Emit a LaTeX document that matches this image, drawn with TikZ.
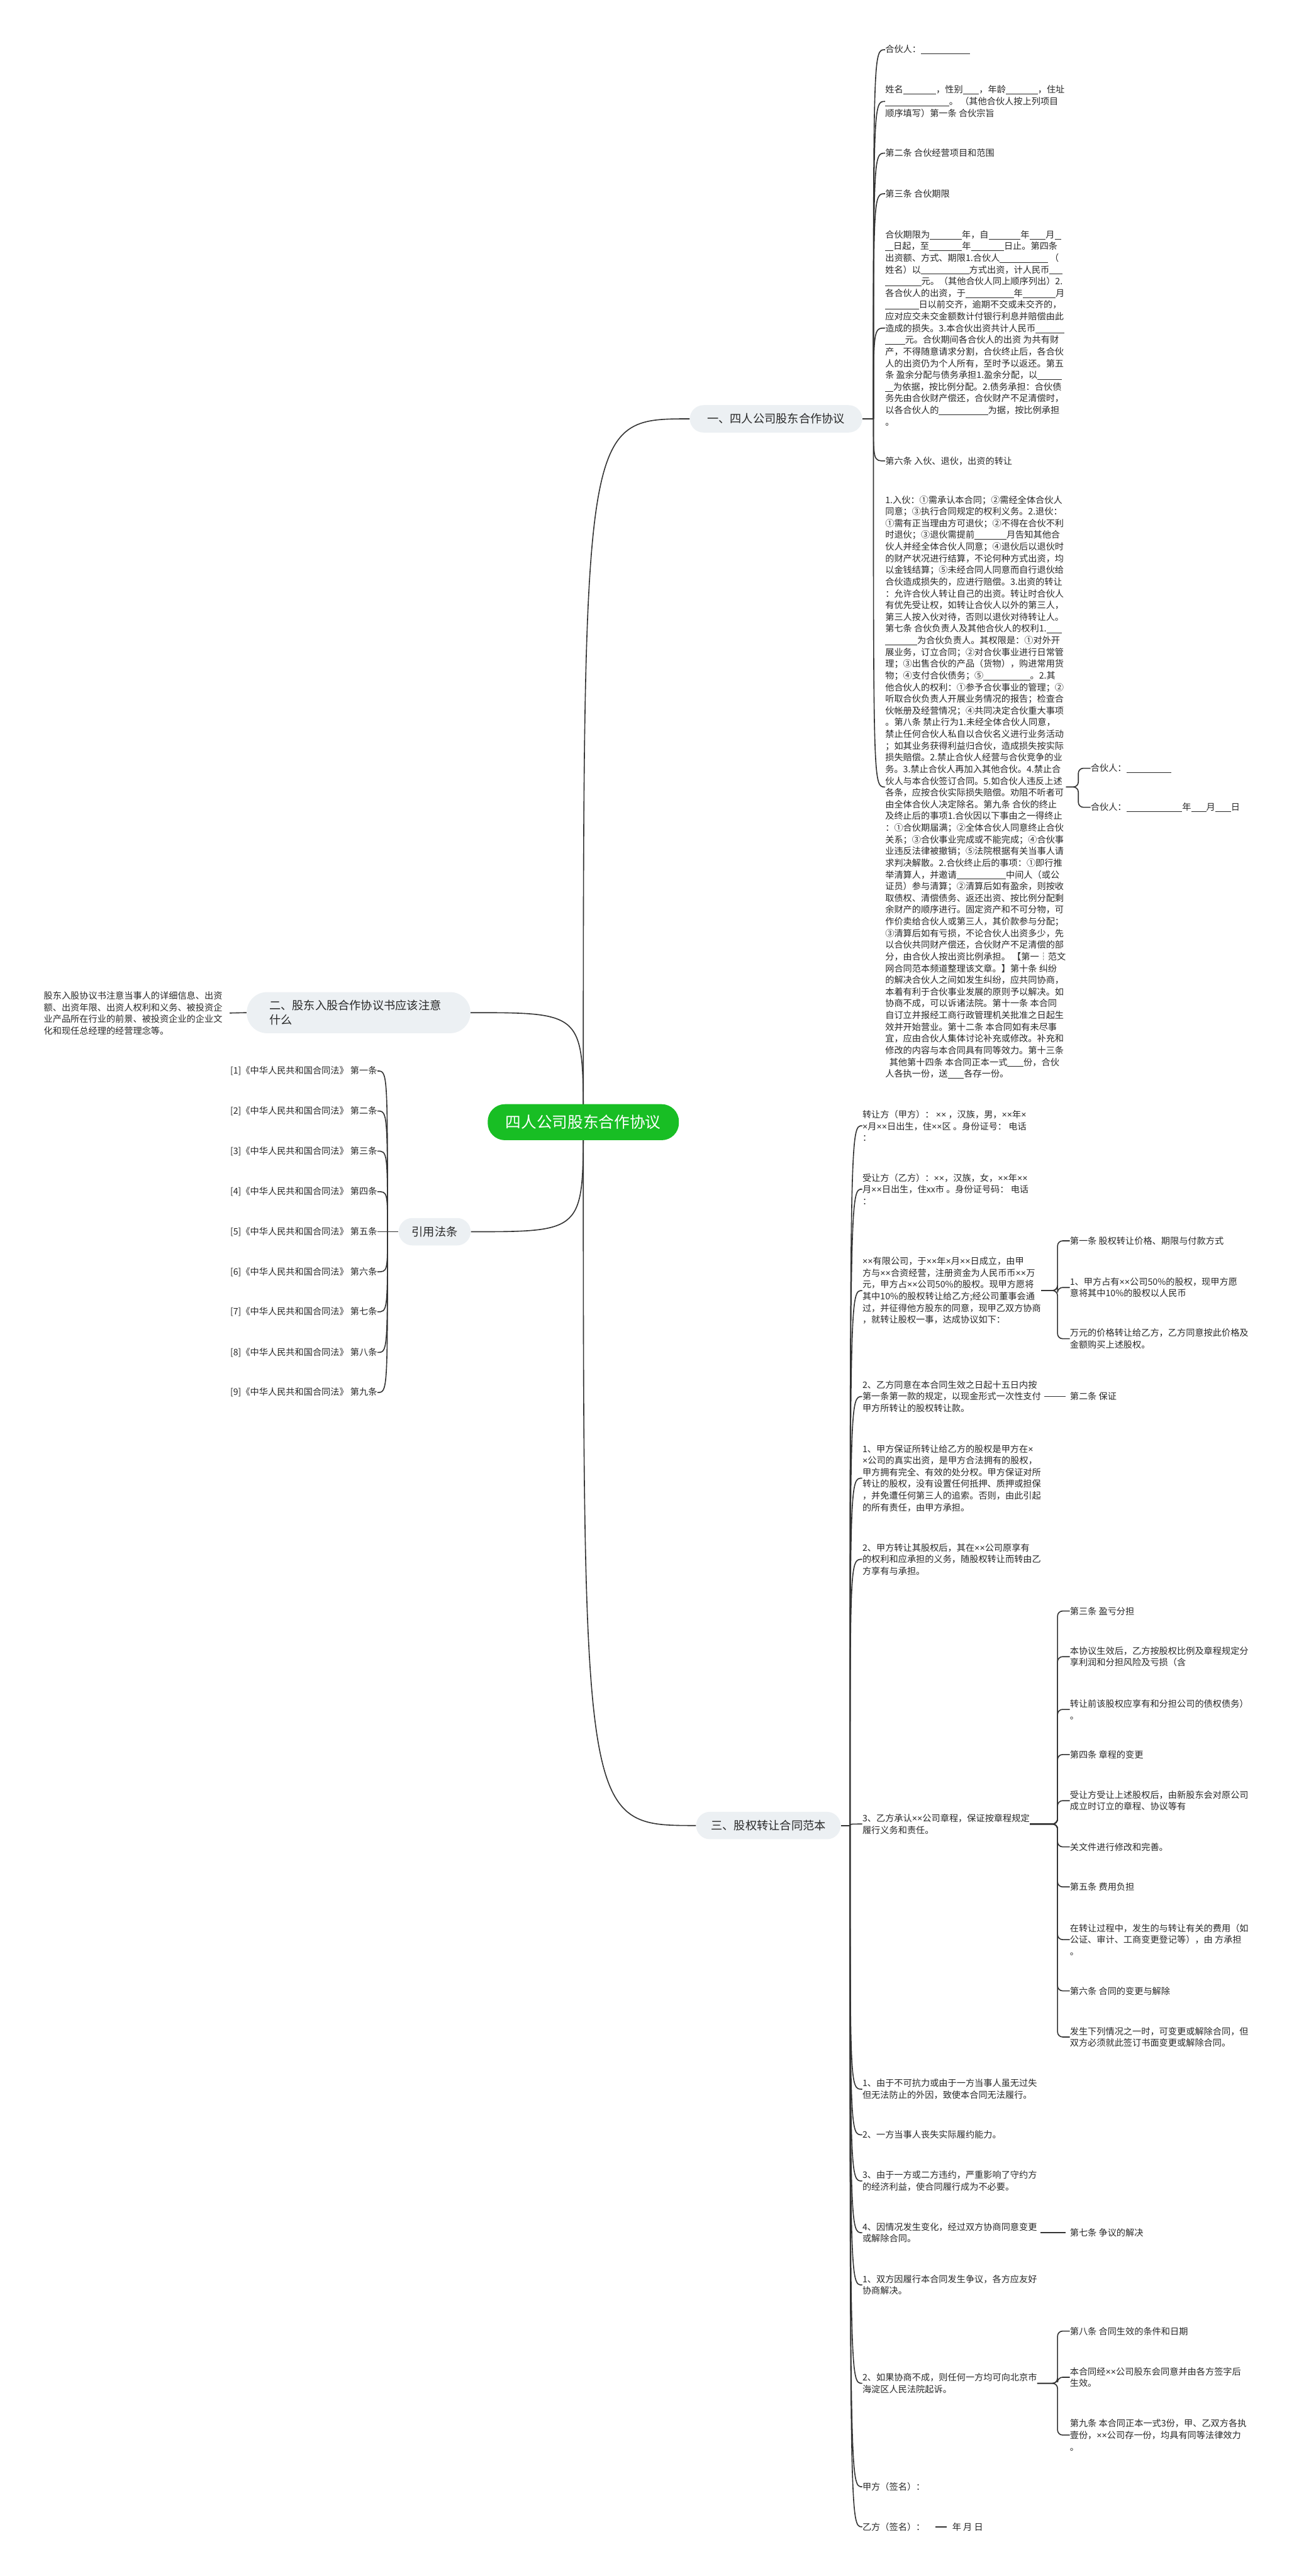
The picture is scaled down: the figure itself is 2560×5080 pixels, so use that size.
\documentclass[tikz,border=0pt]{standalone}
\usepackage{fontspec}
\setmainfont{Noto Sans CJK SC}
\newfontfamily\xfont{Liberation Sans}
\definecolor{rootc}{RGB}{24,190,36}
\definecolor{pillc}{RGB}{236,240,243}
\definecolor{linec}{RGB}{51,51,51}
\definecolor{textc}{RGB}{40,40,40}
\newcommand\bl[1]{\rule[-1.3pt]{\dimexpr #1pt/2\relax}{0.45pt}}
\newcommand\dfont{\fontsize{8.8pt}{11.55pt}\selectfont}
\newcommand\pfont{\fontsize{11.3pt}{14.5pt}\selectfont}
\newcommand\rfont{\fontsize{15.3pt}{18pt}\selectfont}
\catcode`\×=\active
\protected\def×{{\xfont\char"D7}}
\pgfdeclarelayer{bg}
\pgfsetlayers{bg,main}
\tikzset{
 txt/.style={anchor=west, inner sep=0pt, align=left, font=\dfont, text=textc},
 rtxt/.style={anchor=east, inner sep=0pt, align=left, font=\dfont, text=textc},
 pill/.style={fill=pillc, text=textc, font=\pfont, inner sep=0pt, minimum height=27pt, rounded corners=13.5pt, align=center},
 rootnode/.style={fill=rootc, text=white, font=\rfont, inner sep=0pt, minimum width=188.5pt, minimum height=35.5pt, rounded corners=17pt},
 conn/.style={draw=linec, line width=1pt},
 brk/.style={conn, rounded corners=5pt},
}
\begin{document}
\begin{tikzpicture}[x=0.5pt,y=-0.5pt]
\useasboundingbox (0,0) rectangle (2560,5080);
\begin{pgfonlayer}{bg}
\fill[white] (0,0) rectangle (2560,5080);
\end{pgfonlayer}

% root and main branches
\node[rootnode] (root) at (1150,2213) {四人公司股东合作协议};
\node[pill, minimum width=170pt] (a) at (1530,826) {一、四人公司股东合作协议};
\node[pill, minimum width=220.5pt, minimum height=40.5pt, rounded corners=20pt, text width=176pt, align=left] (b) at (707,1997) {二、股东入股合作协议书应该注意\\什么};
\node[pill, minimum width=71pt] (c) at (857,2429) {引用法条};
\node[pill, minimum width=142.5pt] (d) at (1515,3600) {三、股权转让合同范本};

% section one
\node[txt] (a1) at (1745,98) {合伙人：\bl{96}};
\node[txt] (a2) at (1745,200) {姓名\bl{65}，性别\bl{32}，年龄\bl{63}，住址\\\bl{126}。 （其他合伙人按上列项目\\顺序填写）第一条 合伙宗旨};
\node[txt] (a3) at (1745,302) {第二条 合伙经营项目和范围};
\node[txt] (a4) at (1745,382) {第三条 合伙期限};
\node[txt] (a5) at (1745,647) {合伙期限为\bl{63}年，自\bl{63}年\bl{32}月\bl{13}\\
\bl{16}日起，至\bl{65}年\bl{65}日止。第四条\\
出资额、方式、期限1.合伙人\bl{95} （\\
姓名）以\bl{95}方式出资，计人民币\bl{25}\\
\bl{71}元。（其他合伙人同上顺序列出）2.\\
各合伙人的出资，于\bl{95}年\bl{65}月\\
\bl{66}日以前交齐，逾期不交或未交齐的，\\
应对应交未交金额数计付银行利息并赔偿由此\\
造成的损失。3.本合伙出资共计人民币\bl{57}\\
\bl{39}元。合伙期间各合伙人的出资 为共有财\\
产，不得随意请求分割，合伙终止后，各合伙\\
人的出资仍为个人所有，至时予以返还。第五\\
条 盈余分配与债务承担1.盈余分配，以\bl{48}\\
\bl{16}为依据，按比例分配。2.债务承担：合伙债\\
务先由合伙财产偿还，合伙财产不足清偿时，\\
以各合伙人的\bl{97}为据，按比例承担\\
。};
\node[txt] (a6) at (1745,909) {第六条 入伙、退伙，出资的转让};
\node[txt] (a7) at (1745,1552) {1.入伙：①需承认本合同；②需经全体合伙人\\
同意；③执行合同规定的权利义务。2.退伙：\\
①需有正当理由方可退伙；②不得在合伙不利\\
时退伙；③退伙需提前\bl{63}月告知其他合\\
伙人并经全体合伙人同意；④退伙后以退伙时\\
的财产状况进行结算，不论何种方式出资，均\\
以金钱结算；⑤未经合同人同意而自行退伙给\\
合伙造成损失的，应进行赔偿。3.出资的转让\\
：允许合伙人转让自己的出资。转让时合伙人\\
有优先受让权，如转让合伙人以外的第三人，\\
第三人按入伙对待，否则以退伙对待转让人。\\
第七条 合伙负责人及其他合伙人的权利1.\bl{30}\\
\bl{63}为合伙负责人。其权限是：①对外开\\
展业务，订立合同；②对合伙事业进行日常管\\
理；③出售合伙的产品（货物），购进常用货\\
物；④支付合伙债务；⑤\bl{92}。2.其\\
他合伙人的权利：①参予合伙事业的管理；②\\
听取合伙负责人开展业务情况的报告；检查合\\
伙帐册及经营情况；④共同决定合伙重大事项\\
。第八条 禁止行为1.未经全体合伙人同意，\\
禁止任何合伙人私自以合伙名义进行业务活动\\
；如其业务获得利益归合伙，造成损失按实际\\
损失赔偿。2.禁止合伙人经营与合伙竞争的业\\
务。3.禁止合伙人再加入其他合伙。4.禁止合\\
伙人与本合伙签订合同。5.如合伙人违反上述\\
各条，应按合伙实际损失赔偿。劝阻不听者可\\
由全体合伙人决定除名。第九条 合伙的终止\\
及终止后的事项1.合伙因以下事由之一得终止\\
：①合伙期届满；②全体合伙人同意终止合伙\\
关系；③合伙事业完成或不能完成；④合伙事\\
业违反法律被撤销；⑤法院根据有关当事人请\\
求判决解散。2.合伙终止后的事项：①即行推\\
举清算人，并邀请\bl{97}中间人（或公\\
证员）参与清算；②清算后如有盈余，则按收\\
取债权、清偿债务、返还出资、按比例分配剩\\
余财产的顺序进行。固定资产和不可分物，可\\
作价卖给合伙人或第三人，其价款参与分配；\\
③清算后如有亏损，不论合伙人出资多少，先\\
以合伙共同财产偿还，合伙财产不足清偿的部\\
分，由合伙人按出资比例承担。 【第一┆范文\\
网合同范本频道整理该文章。】第十条 纠纷\\
的解决合伙人之间如发生纠纷，应共同协商，\\
本着有利于合伙事业发展的原则予以解决。如\\
协商不成，可以诉诸法院。第十一条 本合同\\
自订立并报经工商行政管理机关批准之日起生\\
效并开始营业。第十二条 本合同如有未尽事\\
宜，应由合伙人集体讨论补充或修改。补充和\\
修改的内容与本合同具有同等效力。第十三条\\
\hspace*{4pt}其他第十四条 本合同正本一式\bl{32}份，合伙\\
人各执一份，送\bl{32}各存一份。};
\node[txt] (a7a) at (2150,1515) {合伙人：\bl{89}};
\node[txt] (a7b) at (2150,1592) {合伙人：\bl{110}年\bl{30}月\bl{31}日};

% section two
\node[txt] (b1) at (86,1998) {股东入股协议书注意当事人的详细信息、出资\\额、出资年限、出资人权利和义务、被投资企\\业产品所在行业的前景、被投资企业的企业文\\化和现任总经理的经营理念等。};

% cited laws
\node[rtxt] (c1) at (744,2112) {[1]《中华人民共和国合同法》 第一条};
\node[rtxt] (c2) at (744,2191) {[2]《中华人民共和国合同法》 第二条};
\node[rtxt] (c3) at (744,2270) {[3]《中华人民共和国合同法》 第三条};
\node[rtxt] (c4) at (744,2350) {[4]《中华人民共和国合同法》 第四条};
\node[rtxt] (c5) at (744,2429) {[5]《中华人民共和国合同法》 第五条};
\node[rtxt] (c6) at (744,2508) {[6]《中华人民共和国合同法》 第六条};
\node[rtxt] (c7) at (744,2587) {[7]《中华人民共和国合同法》 第七条};
\node[rtxt] (c8) at (744,2667) {[8]《中华人民共和国合同法》 第八条};
\node[rtxt] (c9) at (744,2746) {[9]《中华人民共和国合同法》 第九条};

% section three
\node[txt] (d1) at (1700,2220) {转让方（甲方）：  ×× ，汉族，男，××年×\\×月××日出生，住××区 。身份证号： 电话\\：};
\node[txt] (d2) at (1700,2345) {受让方（乙方）：××，汉族，女，××年××\\月××日出生，住xx市 。身份证号码： 电话\\：};
\node[txt] (d3) at (1700,2545) {××有限公司，于××年×月××日成立，由甲\\方与××合资经营，注册资金为人民币币××万\\元，甲方占××公司50\%的股权。现甲方愿将\\其中10\%的股权转让给乙方;经公司董事会通\\过，并征得他方股东的同意，现甲乙双方协商\\，就转让股权一事，达成协议如下：};
\node[txt] (d3a) at (2109,2447) {第一条 股权转让价格、期限与付款方式};
\node[txt] (d3b) at (2109,2539) {1、甲方占有××公司50\%的股权，现甲方愿\\意将其中10\%的股权以人民币};
\node[txt] (d3c) at (2109,2640) {万元的价格转让给乙方，乙方同意按此价格及\\金额购买上述股权。};
\node[txt] (d4) at (1700,2754) {2、乙方同意在本合同生效之日起十五日内按\\第一条第一款的规定，以现金形式一次性支付\\甲方所转让的股权转让款。};
\node[txt] (d4a) at (2109,2754) {第二条 保证};
\node[txt] (d5) at (1700,2915) {1、甲方保证所转让给乙方的股权是甲方在×\\×公司的真实出资，是甲方合法拥有的股权，\\甲方拥有完全、有效的处分权。甲方保证对所\\转让的股权，没有设置任何抵押、质押或担保\\，并免遭任何第三人的追索。否则，由此引起\\的所有责任，由甲方承担。};
\node[txt] (d6) at (1700,3075) {2、甲方转让其股权后，其在××公司原享有\\的权利和应承担的义务，随股权转让而转由乙\\方享有与承担。};
\node[txt] (d7) at (1700,3597) {3、乙方承认××公司章程，保证按章程规定\\履行义务和责任。};
\node[txt] (d7a) at (2109,3177) {第三条 盈亏分担};
\node[txt] (d7b) at (2109,3267) {本协议生效后，乙方按股权比例及章程规定分\\享利润和分担风险及亏损（含};
\node[txt] (d7c) at (2109,3371) {转让前该股权应享有和分担公司的债权债务）\\。};
\node[txt] (d7d) at (2109,3460) {第四条 章程的变更};
\node[txt] (d7e) at (2109,3551) {受让方受让上述股权后，由新股东会对原公司\\成立时订立的章程、协议等有};
\node[txt] (d7f) at (2109,3642) {关文件进行修改和完善。};
\node[txt] (d7g) at (2109,3721) {第五条 费用负担};
\node[txt] (d7h) at (2109,3825) {在转让过程中，发生的与转让有关的费用（如\\公证、审计、工商变更登记等），由 方承担\\。};
\node[txt] (d7i) at (2109,3926) {第六条 合同的变更与解除};
\node[txt] (d7j) at (2109,4017) {发生下列情况之一时，可变更或解除合同，但\\双方必须就此签订书面变更或解除合同。};
\node[txt] (d8) at (1700,4120) {1、由于不可抗力或由于一方当事人虽无过失\\但无法防止的外因，致使本合同无法履行。};
\node[txt] (d9) at (1700,4210) {2、一方当事人丧失实际履约能力。};
\node[txt] (d10) at (1700,4301) {3、由于一方或二方违约，严重影响了守约方\\的经济利益，使合同履行成为不必要。};
\node[txt] (d11) at (1700,4403) {4、因情况发生变化，经过双方协商同意变更\\或解除合同。};
\node[txt] (d11a) at (2109,4403) {第七条 争议的解决};
\node[txt] (d12) at (1700,4506) {1、双方因履行本合同发生争议，各方应友好\\协商解决。};
\node[txt] (d13) at (1700,4700) {2、如果协商不成，则任何一方均可向北京市\\海淀区人民法院起诉。};
\node[txt] (d13a) at (2109,4597) {第八条 合同生效的条件和日期};
\node[txt] (d13b) at (2109,4688) {本合同经××公司股东会同意并由各方签字后\\生效。};
\node[txt] (d13c) at (2109,4802) {第九条 本合同正本一式3份，甲、乙双方各执\\壹份，××公司存一份，均具有同等法律效力\\。};
\node[txt] (d14) at (1700,4904) {甲方（签名）：};
\node[txt] (d15) at (1700,4983) {乙方（签名）：};
\node[txt] (d15a) at (1877,4983) {年 月 日};

% spine points
\coordinate (as) at (1722,826);
\coordinate (cs) at (764,2429);
\coordinate (ds) at (1676,3600);
\coordinate (a7s) at (2126,1552);
\coordinate (d3s) at (2085,2545);
\coordinate (d7s) at (2085,3597);
\coordinate (d13s) at (2085,4700);

\begin{pgfonlayer}{bg}
% root to main branches
\draw[conn] (root.center) .. controls (root.center |- a.west) and (root.center |- a.west) .. (a.west);
\draw[conn] (root.center) .. controls (root.center |- d.west) and (root.center |- d.west) .. (d.west);
\draw[conn] (root.center) .. controls (root.center |- b.east) .. (b.east);
\draw[conn] (root.center) .. controls (root.center |- c.east) .. (c.east);
% section one
\draw[conn] (a.east) -- (as);
\foreach \n in {a1,a2,a3,a4,a5,a6,a7}
  \draw[conn] (as) .. controls (as |- \n.west) and (as |- \n.west) .. (\n.west);
\draw[brk] (a7.east) -- (a7s) |- (a7a.west);
\draw[brk] (a7.east) -- (a7s) |- (a7b.west);
% section two
\draw[conn, shorten <=7pt] (b1.east) -- (b.west);
% cited laws
\draw[conn] (c.west) -- (cs);
\foreach \n in {c1,c2,c3,c4,c5,c6,c7,c8,c9}
  \draw[conn] (cs) .. controls (cs |- \n.east) and (cs |- \n.east) .. (\n.east);
% section three
\draw[conn] (d.east) -- (ds);
\foreach \n in {d1,d2,d3,d4,d5,d6,d7,d8,d9,d10,d11,d12,d13,d14,d15}
  \draw[conn] (ds) .. controls (ds |- \n.west) and (ds |- \n.west) .. (\n.west);
\foreach \n in {d3a,d3b,d3c}
  \draw[brk] (d3.east) -- (d3s) |- (\n.west);
\foreach \n in {d7a,d7b,d7c,d7d,d7e,d7f,d7g,d7h,d7i,d7j}
  \draw[brk] (d7.east) -- (d7s) |- (\n.west);
\foreach \n in {d13a,d13b,d13c}
  \draw[brk] (d13.east) -- (d13s) |- (\n.west);
\draw[conn, shorten <=3pt, shorten >=4pt] (d4.east) -- (d4a.west);
\draw[conn, shorten <=3pt, shorten >=4pt] (d11.east) -- (d11a.west);
\draw[conn, shorten <=10pt, shorten >=5pt] (d15.east) -- (d15a.west);
\end{pgfonlayer}
\end{tikzpicture}
\end{document}
